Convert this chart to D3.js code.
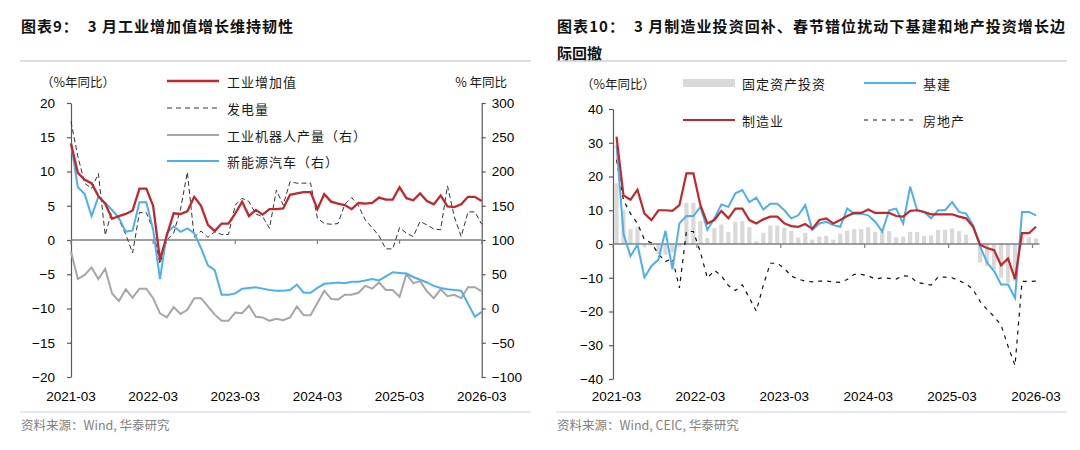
<!DOCTYPE html>
<html>
<head>
<meta charset="utf-8">
<script src="https://cdn.jsdelivr.net/npm/d3@7"></script>
<style>
body { margin: 0; background: #fff; }
svg text { font-family: "Liberation Sans", Arial, sans-serif; }
svg text.cn { font-family: "Noto Sans CJK SC", sans-serif; }
</style>
</head>
<body>
<svg width="1080" height="450"></svg>
<script>
// x axis: monthly, 2021-03 .. 2026-03 (61 points)
const tickIdx = [0, 12, 24, 36, 48, 60];
const tickLabels = ["2021-03", "2022-03", "2023-03", "2024-03", "2025-03", "2026-03"];

// Chart 9 (left axis, % yoy)
const industry = [14.1, 9.8, 8.8, 8.3, 6.4, 5.3, 3.1, 3.5, 3.8, 4.3,
  7.5, 7.5, 5.0, -2.9, 0.7, 3.9, 3.8, 4.2, 6.3, 5.0, 2.2, 1.3,
  2.4, 2.4, 3.9, 5.6, 3.5, 4.4, 3.7, 4.5, 4.5, 4.6, 6.6, 6.8,
  7.0, 7.0, 4.5, 6.7, 5.6, 5.3, 5.1, 4.5, 5.4, 5.3, 5.4, 6.2,
  5.9, 5.9, 7.7, 6.1, 5.8, 6.8, 5.7, 5.2, 6.5, 4.9, 4.8, 5.2,
  6.3, 6.3, 5.7];
const power = [17.3, 12.2, 8.3, 7.5, 9.7, 0.7, 4.4, 3.0, 0.8, -1.9,
  4.0, 4.0, 1.5, -3.5, 0.0, 1.0, 4.5, 9.9, 0.4, 1.3, 0.4, 1.2,
  0.8, 0.8, 5.1, 6.1, 5.6, 3.8, 3.4, 1.7, 7.3, 5.1, 8.5, 8.3,
  8.3, 8.3, 3.2, 2.4, 2.3, 2.4, 5.2, 6.2, 5.0, 2.9, 1.8, 0.6,
  -1.3, -1.3, 1.8, 1.0, 0.5, 2.7, 2.2, 1.6, 1.5, 7.9, 3.4, 0.5,
  4.1, 4.1, 2.3];
// Chart 9 (right axis, % yoy)
const robots = [83, 43, 49, 60, 43, 58, 22, 11, 28, 16,
  29, 29, 15, -7, -13, 2, -8, -2, 15, 15, 3, -9,
  -18, -18, -6, -7, 4, -12, -13, -18, -15, -17, -13, 3,
  -10, -10, 8, 26, 14, 13, 20, 20, 23, 33, 29, 38,
  27, 27, 17, 50, 37, 40, 25, 15, 28, 18, 20, 15,
  31, 31, 25];
const nev = [241, 177, 167, 135, 163, 154, 144, 132, 112, 114,
  155, 155, 115, 43, 110, 120, 112, 117, 110, 88, 63, 56,
  20, 20, 22, 29, 30, 31, 29, 27, 26, 26, 27, 35,
  23, 23, 30, 36, 37, 38, 37, 39, 39, 41, 43, 41,
  47, 53, 52, 51, 46, 42, 38, 33, 30, 28, 27, 26,
  7, -12, -5];

// Chart 10 (% yoy)
const fai = [18, 10, 4.4, 4.9, -1.0, -0.5, -3.0, -3.2, -2.5, -0.8,
  12.2, 12.2, 6.8, 1.8, 4.7, 5.8, 3.6, 6.6, 6.8, 5.0, 0.8, 3.3,
  5.5, 5.5, 4.8, 3.9, 1.9, 3.3, 1.3, 2.2, 2.4, 1.3, 3.0, 4.0,
  4.4, 4.4, 5.0, 3.6, 3.7, 3.8, 2.0, 2.2, 3.6, 3.6, 2.4, 2.6,
  4.2, 4.2, 4.6, 3.8, 2.8, 0.3, -5.5, -6.5, -7.5, -10.0, -11.5, -11.0,
  2.0, 2.0, 1.7];
const infra = [29.4, 3.0, -3.6, -0.2, -9.9, -6.5, -4.6, 3.9, -7.5, 6.1,
  8.3, 8.3, 11.0, 4.2, 7.6, 11.7, 11.0, 15.0, 16.0, 12.4, 13.7, 10.2,
  11.9, 11.9, 10.0, 7.6, 8.5, 11.5, 4.2, 6.1, 6.6, 5.6, 5.1, 10.5,
  9.0, 9.0, 8.5, 6.6, 3.7, 10.0, 10.5, 6.1, 17.0, 10.0, 9.5, 7.6,
  10.0, 10.0, 12.4, 9.5, 9.0, 5.6, -0.7, -5.5, -8.0, -12.0, -12.0, -16.0,
  9.5, 9.5, 8.5];
const manuf = [31.8, 14.4, 13.1, 16.1, 9.0, 7.1, 10.0, 10.0, 9.8, 11.5,
  20.9, 20.9, 11.5, 6.1, 7.1, 9.8, 7.6, 10.5, 10.5, 7.1, 6.1, 7.3,
  8.1, 8.1, 6.1, 5.3, 5.1, 5.9, 4.5, 7.1, 7.6, 6.1, 7.1, 8.3,
  9.2, 9.2, 10.2, 9.2, 9.2, 9.2, 8.3, 8.1, 9.8, 10.0, 9.5, 8.8,
  8.8, 8.8, 8.8, 8.1, 7.6, 5.1, -0.2, -1.2, -1.8, -6.3, -4.3, -10.4,
  3.2, 3.2, 5.1];
const estate = [25, 13, 9.0, 6.1, 1.3, 0.3, -3.0, -5.2, -4.3, -13.0,
  3.7, 3.7, -2.4, -10.1, -7.8, -9.4, -12.3, -13.8, -12.1, -16.0, -19.9, -12.2,
  -5.7, -5.7, -7.2, -9.5, -10.4, -11.0, -11.2, -11.0, -11.0, -11.2, -11.4, -10.5,
  -9.0, -9.0, -9.4, -10.4, -10.0, -10.2, -10.4, -9.4, -9.6, -11.4, -11.8, -12.2,
  -9.8, -9.8, -10.0, -10.9, -11.8, -13.5, -17.0, -19.4, -21.5, -24.0, -30.3, -36.0,
  -11.1, -11.1, -11.0];

const red = "#C0282C", blue = "#4DB0EC", gray = "#A6A6A6", barFill = "#D9D9D9";
const axisColor = "#595959", zeroColor = "#808080", ruleColor = "#C8D2DE";

const svg = d3.select("svg");

function styleAxis(g) {
  g.attr("font-family", "'Liberation Sans', Arial, sans-serif").attr("font-size", 13.5);
  g.select(".domain").attr("stroke", axisColor).attr("stroke-width", 1.2);
  g.selectAll(".tick line").attr("stroke", axisColor).attr("stroke-width", 1.2);
  g.selectAll(".tick text").attr("fill", "#000");
}

function cnText(g, x, y, txt, opts = {}) {
  return g.append("text").attr("class", "cn")
    .attr("x", x).attr("y", y)
    .attr("dominant-baseline", "central")
    .attr("font-size", opts.size || 13)
    .attr("fill", opts.fill || "#1a1a1a")
    .attr("font-weight", opts.weight || "normal")
    .attr("text-anchor", opts.anchor || "start")
    .style("white-space", "pre")
    .text(txt);
}

// ---------- headers / footers
function frame(x0, x1, title, title2, tWidth, source) {
  const t = cnText(svg, x0 + 1, 25, title, { size: 15, weight: "bold", fill: "#111" });
  if (tWidth) t.attr("textLength", tWidth).attr("lengthAdjust", "spacing");
  if (title2) cnText(svg, x0 + 1, 52, title2, { size: 15, weight: "bold", fill: "#111" });
  svg.append("line").attr("x1", x0).attr("x2", x1).attr("y1", 61).attr("y2", 61)
    .attr("stroke", ruleColor).attr("stroke-width", 1.6);
  svg.append("line").attr("x1", x0).attr("x2", x1).attr("y1", 412).attr("y2", 412)
    .attr("stroke", ruleColor).attr("stroke-width", 1.2);
  cnText(svg, x0 + 1, 424, source, { size: 12.5, fill: "#808080" });
}
frame(20, 531, "图表9：  3 月工业增加值增长维持韧性", null, 272, "资料来源：Wind, 华泰研究");
frame(556, 1067, "图表10：  3 月制造业投资回补、春节错位扰动下基建和地产投资增长边", "际回撤", 508, "资料来源：Wind, CEIC, 华泰研究");

// ---------- chart 9
const x9 = d3.scaleLinear().domain([0, 60]).range([71, 481.7]);
const yL = d3.scaleLinear().domain([-20, 20]).range([377, 103]);
const yR = d3.scaleLinear().domain([-100, 300]).range([377, 103]);
const g9 = svg.append("g");

g9.append("g").attr("transform", "translate(71,0)")
  .call(d3.axisLeft(yL).tickValues(d3.range(-20, 21, 5)).tickSize(4).tickSizeOuter(0).tickPadding(12))
  .call(styleAxis);
g9.append("g").attr("transform", "translate(481.7,0)")
  .call(d3.axisRight(yR).tickValues(d3.range(-100, 301, 50)).tickSize(4).tickSizeOuter(0).tickPadding(6))
  .call(styleAxis);

g9.append("line").attr("x1", x9(0)).attr("x2", x9(60)).attr("y1", yL(0)).attr("y2", yL(0))
  .attr("stroke", zeroColor).attr("stroke-width", 1.5);
g9.selectAll(".xt").data(tickIdx).join("line")
  .attr("x1", d => x9(d)).attr("x2", d => x9(d))
  .attr("y1", yL(0)).attr("y2", yL(0) + 4)
  .attr("stroke", zeroColor).attr("stroke-width", 1.2);
g9.selectAll(".xl").data(tickIdx).join("text")
  .attr("x", d => x9(d)).attr("y", 401)
  .attr("text-anchor", "middle").attr("font-size", 13.5)
  .text((d, i) => tickLabels[i]);

const lineL = d3.line().x((d, i) => x9(i)).y(d => yL(d));
const lineR = d3.line().x((d, i) => x9(i)).y(d => yR(d));

g9.append("path").datum(power).attr("d", lineL).attr("fill", "none")
  .attr("stroke", "#333").attr("stroke-width", 1).attr("stroke-dasharray", "5,3");
g9.append("path").datum(robots).attr("d", lineR).attr("fill", "none")
  .attr("stroke", gray).attr("stroke-width", 2);
g9.append("path").datum(nev).attr("d", lineR).attr("fill", "none")
  .attr("stroke", blue).attr("stroke-width", 2);
g9.append("path").datum(industry).attr("d", lineL).attr("fill", "none")
  .attr("stroke", red).attr("stroke-width", 2.3);

cnText(g9, 41, 81, "（%年同比）", { size: 12.5 });
cnText(g9, 507, 81, "% 年同比", { size: 12.5, anchor: "end" });

const leg9 = [
  { name: "工业增加值", color: red, w: 2.3, dash: null, y: 81 },
  { name: "发电量", color: "#333", w: 1, dash: "5,4", y: 108 },
  { name: "工业机器人产量（右）", color: gray, w: 2, dash: null, y: 135 },
  { name: "新能源汽车（右）", color: blue, w: 2, dash: null, y: 161 }
];
leg9.forEach(d => {
  g9.append("line").attr("x1", 167).attr("x2", 219).attr("y1", d.y).attr("y2", d.y)
    .attr("stroke", d.color).attr("stroke-width", d.w).attr("stroke-dasharray", d.dash);
  cnText(g9, 227, d.y, d.name, { size: 13 }).attr("letter-spacing", 1);
});

// ---------- chart 10
const x10 = d3.scaleBand().domain(d3.range(61)).range([613, 1039.5]);
const bw = x10.bandwidth();
const cx = i => x10(i) + bw / 2;
const y10 = d3.scaleLinear().domain([-40, 40]).range([379, 109]);
const g10 = svg.append("g");

g10.append("g").attr("transform", "translate(613,0)")
  .call(d3.axisLeft(y10).tickValues(d3.range(-40, 41, 10)).tickSize(4).tickSizeOuter(0).tickPadding(6))
  .call(styleAxis);

g10.selectAll(".bar").data(fai).join("rect")
  .attr("x", (d, i) => x10(i) + bw * 0.2)
  .attr("width", bw * 0.6)
  .attr("y", d => y10(Math.max(0, d)))
  .attr("height", d => Math.abs(y10(d) - y10(0)))
  .attr("fill", barFill);

g10.append("line").attr("x1", 613).attr("x2", 1039.5).attr("y1", y10(0)).attr("y2", y10(0))
  .attr("stroke", zeroColor).attr("stroke-width", 1.5);
g10.selectAll(".xt").data(tickIdx).join("line")
  .attr("x1", d => x10(d)).attr("x2", d => x10(d))
  .attr("y1", y10(0)).attr("y2", y10(0) + 4)
  .attr("stroke", zeroColor).attr("stroke-width", 1.2);
g10.selectAll(".xl").data(tickIdx).join("text")
  .attr("x", d => cx(d)).attr("y", 401)
  .attr("text-anchor", "middle").attr("font-size", 13.5)
  .text((d, i) => tickLabels[i]);

const line10 = d3.line().x((d, i) => cx(i)).y(d => y10(d));
g10.append("path").datum(estate).attr("d", line10).attr("fill", "none")
  .attr("stroke", "#111").attr("stroke-width", 1.2).attr("stroke-dasharray", "4,5");
g10.append("path").datum(infra).attr("d", line10).attr("fill", "none")
  .attr("stroke", blue).attr("stroke-width", 2);
g10.append("path").datum(manuf).attr("d", line10).attr("fill", "none")
  .attr("stroke", red).attr("stroke-width", 2.2);

cnText(g10, 581, 83, "（%年同比）", { size: 12.5 });
const leg10 = [
  { name: "固定资产投资", type: "bar", x: 683, y: 83 },
  { name: "基建", color: blue, w: 2, x: 864, y: 83 },
  { name: "制造业", color: red, w: 2.2, x: 683, y: 120 },
  { name: "房地产", color: "#111", w: 1.2, dash: "4,5", x: 864, y: 120 }
];
leg10.forEach(d => {
  if (d.type === "bar") {
    g10.append("rect").attr("x", d.x).attr("y", d.y - 4).attr("width", 52).attr("height", 8).attr("fill", barFill);
  } else {
    g10.append("line").attr("x1", d.x).attr("x2", d.x + 52).attr("y1", d.y).attr("y2", d.y)
      .attr("stroke", d.color).attr("stroke-width", d.w).attr("stroke-dasharray", d.dash || null);
  }
  cnText(g10, d.x + 59, d.y, d.name, { size: 13 }).attr("letter-spacing", 1);
});
</script>
</body>
</html>
